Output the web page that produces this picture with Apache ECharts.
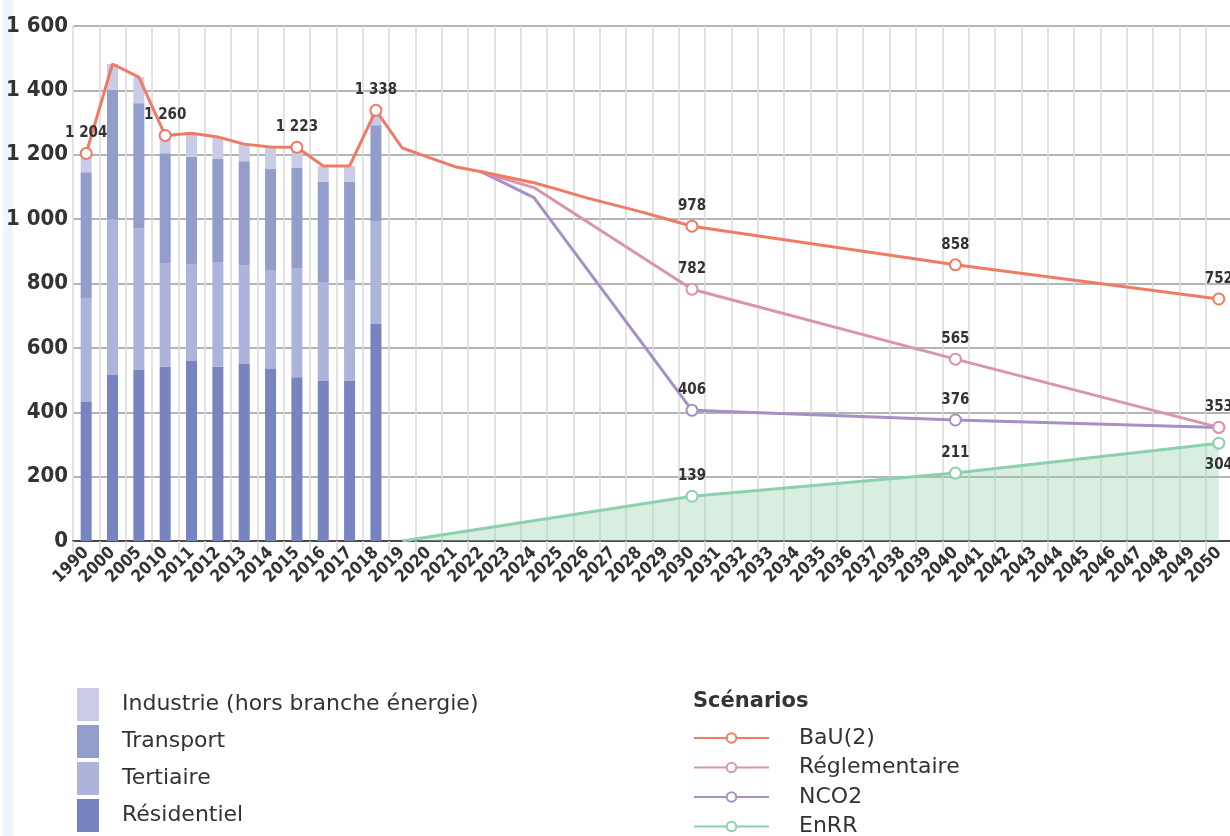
<!DOCTYPE html>
<html>
<head>
<meta charset="utf-8">
<script src="https://cdn.jsdelivr.net/npm/echarts@6/dist/echarts.min.js"></script>
<style>
  html, body { margin: 0; padding: 0; background: #ffffff; }
  #chart { width: 1230px; height: 836px; }
</style>
</head>
<body>
<div id="chart"></div>
<script>
// Years on the x axis (historical survey years, then yearly projections)
const years = [
  '1990', '2000', '2005', '2010', '2011', '2012', '2013', '2014', '2015', '2016', '2017', '2018',
  '2019', '2020', '2021', '2022', '2023', '2024', '2025', '2026', '2027', '2028', '2029', '2030',
  '2031', '2032', '2033', '2034', '2035', '2036', '2037', '2038', '2039', '2040',
  '2041', '2042', '2043', '2044', '2045', '2046', '2047', '2048', '2049', '2050'
];

// Historical consumption by sector (stacked bars, 1990–2018)
const residentiel = [432, 516, 531, 541, 559, 541, 550, 534, 509, 497, 497, 674];
const tertiaire   = [323, 484, 441, 323, 301, 326, 307, 308, 339, 308, 314, 320];
const transport   = [391, 401, 388, 341, 333, 320, 323, 314, 311, 310, 304, 298];
const industrie   = [ 58,  81,  81,  55,  74,  68,  53,  68,  64,  50,  50,  46];

// Scenario trajectories, keyed by year (straight segments joined between given years)
const bau = {
  1990: 1204, 2000: 1482, 2005: 1441, 2010: 1260, 2011: 1267, 2012: 1255, 2013: 1233,
  2014: 1224, 2015: 1223, 2016: 1165, 2017: 1165, 2018: 1338,
  2019: 1221, 2020: 1192, 2021: 1163, 2022: 1147, 2023: 1130, 2024: 1113,
  2025: 1090, 2026: 1066, 2027: 1045, 2028: 1024, 2029: 1001, 2030: 978,
  2040: 858, 2050: 752
};
const reglementaire = { 2022: 1147, 2023: 1122, 2024: 1098, 2030: 782, 2040: 565, 2050: 353 };
const nco2          = { 2022: 1147, 2023: 1107, 2024: 1067, 2030: 406, 2040: 376, 2050: 353 };
const enrr          = { 2019: 0, 2030: 139, 2040: 211, 2050: 304 };

// Years that carry a marker and a value label
const bauMarked   = ['1990', '2010', '2015', '2018', '2030', '2040', '2050'];
const scenMarked  = ['2030', '2040', '2050'];

const numFont = "'Liberation Sans Narrow', 'DejaVu Sans Condensed', 'Roboto', sans-serif";
const legendFont = "'DejaVu Sans', 'Noto Sans', sans-serif";

const fmt = v => String(v).replace(/\B(?=(\d{3})+(?!\d))/g, ' ');

function barData(values) {
  return years.map((y, i) => (i < values.length ? values[i] : null));
}

function lineData(map, marked, opts) {
  opts = opts || {};
  return years.map(y => {
    const v = map[y];
    if (v == null) return null;
    if (!marked.includes(y)) return { value: v, symbol: 'none' };
    const item = { value: v };
    const hide = (opts.noLabel || []).includes(y);
    const below = (opts.below || []).includes(y);
    item.label = hide ? { show: false } : { show: true, position: below ? 'bottom' : 'top', distance: below ? 8 : 6 };
    return item;
  });
}

const labelStyle = {
  show: false,
  fontFamily: numFont,
  fontWeight: 'bold',
  fontSize: 15,
  color: '#333333',
  formatter: p => fmt(p.value)
};

function lineSeries(name, map, marked, color, opts) {
  const s = {
    name: name,
    type: 'line',
    data: lineData(map, marked, opts),
    connectNulls: true,
    symbol: 'emptyCircle',
    symbolSize: 11,
    showAllSymbol: true,
    lineStyle: { color: color, width: 3 },
    itemStyle: { color: color, borderWidth: 2.5 },
    label: labelStyle,
    emphasis: { disabled: true }
  };
  return Object.assign(s, (opts && opts.extra) || {});
}

function barSeries(name, values, color) {
  return {
    name: name,
    type: 'bar',
    stack: 'secteurs',
    barWidth: 11,
    data: barData(values),
    itemStyle: { color: color },
    emphasis: { disabled: true }
  };
}

const chart = echarts.init(document.getElementById('chart'), null, { renderer: 'canvas' });

chart.setOption({
  animation: false,
  backgroundColor: '#ffffff',
  graphic: [{
    type: 'rect',
    shape: { x: 3, y: 0, width: 10, height: 836 },
    style: { fill: '#edf5fd' },
    silent: true,
    z: -10
  }],
  title: {
    text: 'Scénarios',
    left: 688,
    top: 686,
    textStyle: { fontFamily: legendFont, fontWeight: 'bold', fontSize: 21, color: '#333333' }
  },
  grid: { left: 73, top: 26, width: 1159, height: 515, containLabel: false, outerBoundsMode: 'none' },
  xAxis: {
    type: 'category',
    data: years,
    boundaryGap: true,
    axisLine: { show: true, lineStyle: { color: '#4a4a4a', width: 2 } },
    axisTick: { show: true, length: 11, interval: 0, lineStyle: { color: '#d6d6d6', width: 1.5 } },
    splitLine: { show: true, interval: 0, lineStyle: { color: '#dadada', width: 1.5 } },
    axisLabel: {
      interval: 0,
      rotate: 45,
      margin: 9,
      fontFamily: numFont,
      fontWeight: 'bold',
      fontSize: 17,
      color: '#333333'
    }
  },
  yAxis: {
    type: 'value',
    min: 0,
    max: 1600,
    interval: 200,
    axisLine: { show: false },
    axisTick: { show: false },
    splitLine: { show: true, lineStyle: { color: '#b4b4b4', width: 2 } },
    axisLabel: {
      margin: 5,
      fontFamily: numFont,
      fontWeight: 'bold',
      fontSize: 22,
      color: '#333333',
      formatter: v => fmt(v)
    }
  },
  legend: [{
    orient: 'vertical',
    left: 77,
    top: 688,
    height: 200,
    padding: 0,
    icon: 'rect',
    itemWidth: 22,
    itemHeight: 33,
    itemGap: 4,
    selectedMode: false,
    data: ['Industrie (hors branche énergie)', 'Transport', 'Tertiaire', 'Résidentiel'],
    textStyle: { fontFamily: legendFont, fontSize: 22, color: '#333333', padding: [0, 0, 0, 18] }
  }, {
    orient: 'vertical',
    left: 693,
    top: 727,
    height: 200,
    padding: 0,
    itemWidth: 75,
    itemHeight: 12,
    itemGap: 7.5,
    selectedMode: false,
    data: ['BaU(2)', 'Réglementaire', 'NCO2', 'EnRR'],
    textStyle: { fontFamily: legendFont, fontSize: 22, lineHeight: 20, color: '#333333', padding: [0, 0, 0, 25] }
  }],
  series: [
    barSeries('Résidentiel', residentiel, '#7784c0'),
    barSeries('Tertiaire', tertiaire, '#adb3da'),
    barSeries('Transport', transport, '#939dcb'),
    barSeries('Industrie (hors branche énergie)', industrie, '#c9cbe7'),
    lineSeries('EnRR', enrr, scenMarked, '#8dd0ad', {
      below: ['2050'],
      extra: { areaStyle: { color: '#8fd0ad', opacity: 0.36 } }
    }),
    lineSeries('NCO2', nco2, scenMarked, '#a690c5', { noLabel: ['2050'] }),
    lineSeries('Réglementaire', reglementaire, scenMarked, '#d994ae'),
    lineSeries('BaU(2)', bau, bauMarked, '#ef7a66')
  ]
});
</script>
</body>
</html>
